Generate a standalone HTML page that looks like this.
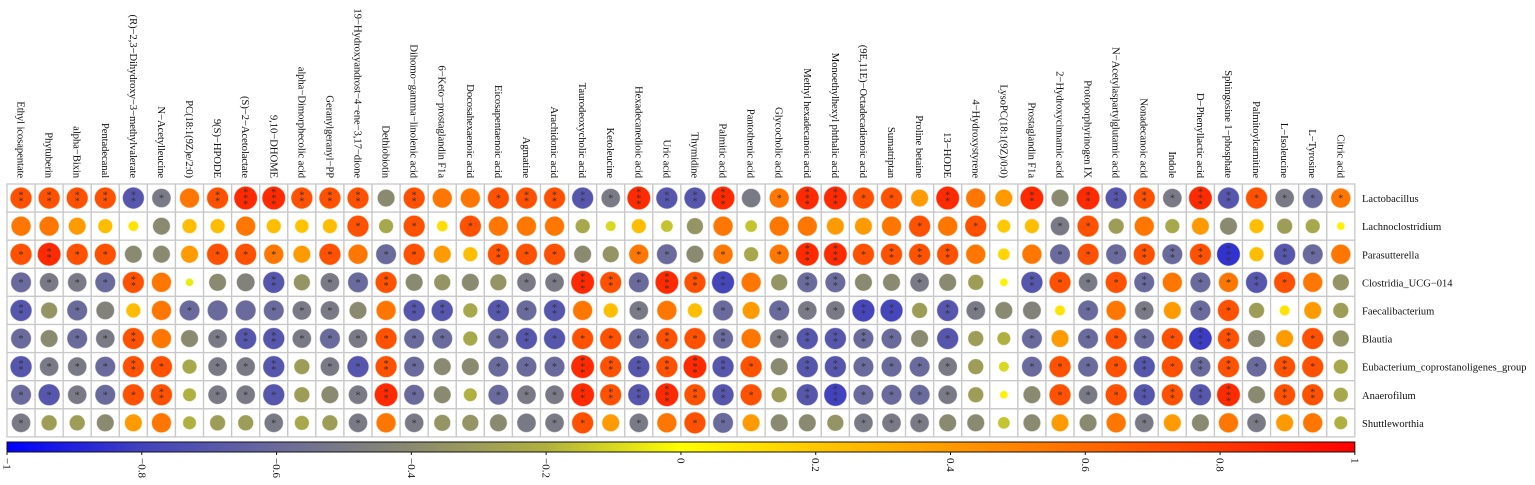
<!DOCTYPE html>
<html><head><meta charset="utf-8">
<style>
html,body{margin:0;padding:0;background:#fff;}
svg{display:block;font-family:"Liberation Serif",serif;}
</style></head>
<body>
<svg id="chart" width="1535" height="485" viewBox="0 0 1535 485" xmlns="http://www.w3.org/2000/svg"></svg>
<script>
const metabolites = ["Ethyl icosapentate","Phytuberin","alpha−Bixin","Pentadecanal","(R)−2,3−Dihydroxy−3−methylvalerate","N−Acetylleucine","PC(18:1(9Z)e/2:0)","9(S)−HPODE","(S)−2−Acetolactate","9,10−DHOME","alpha−Dimorphecolic acid","Geranylgeranyl−PP","19−Hydroxyandrost−4−ene−3,17−dione","Dethiobiotin","Dihomo−gamma−linolenic acid","6−Keto−prostaglandin F1a","Docosahexaenoic acid","Eicosapentaenoic acid","Agmatine","Arachidonic acid","Taurodeoxycholic acid","Ketoleucine","Hexadecanedioic acid","Uric acid","Thymidine","Palmitic acid","Pantothenic acid","Glycocholic acid","Methyl hexadecanoic acid","Monoethylhexyl phthalic acid","(9E,11E)−Octadecadienoic acid","Sumatriptan","Proline betaine","13−HODE","4−Hydroxystyrene","LysoPC(18:1(9Z)/0:0)","Prostaglandin F1a","2−Hydroxycinnamic acid","Protoporphyrinogen IX","N−Acetylaspartylglutamic acid","Nonadecanoic acid","Indole","D−Phenyllactic acid","Sphingosine 1−phosphate","Palmitoylcarnitine","L−Isoleucine","L−Tyrosine","Citric acid"];
const taxa = ["Lactobacillus","Lachnoclostridium","Parasutterella","Clostridia_UCG−014","Faecalibacterium","Blautia","Eubacterium_coprostanoligenes_group","Anaerofilum","Shuttleworthia"];
const rLacto = [.7,.7,.7,.7,-.7,-.5,.55,.7,.85,.85,.7,.7, .7,-.4,.7,.55,.55,.7,.7,.7,-.7,-.5,.85,-.7, -.7,.85,-.5,.55,.85,.85,.7,.7,.4,.85,.55,.4, .85,-.4,.85,-.7,.7,-.5,.85,-.7,.7,-.5,-.6,.55];
const rLachno = [.55,.55,.4,.25,.1,-.4,.25,.25,.55,.25,.22,.25, .7,-.25,.7,.12,.7,.55,.55,.55,-.25,-.1,.25,-.15, -.35,.55,-.15,.55,.55,.4,.4,.55,.7,.55,.7,.2, .25,-.5,.7,-.3,.55,-.25,.4,-.4,.25,-.3,-.25,.05];
const rPara = [.7,.85,.7,.7,-.4,-.4,.4,.7,.7,.55,.4,.7, .55,-.6,.7,.4,.25,.7,.7,.7,-.4,-.35,.55,-.6, -.4,.55,-.25,.55,.85,.85,.7,.7,.7,.7,.55,.15, .55,-.6,.7,-.6,.7,-.6,.7,-.85,.25,-.7,-.6,.55];
const rClost = [-.6,-.5,-.5,-.6,.7,.55,-.05,-.4,-.45,-.7,-.35,-.5, -.6,.7,-.4,-.35,-.4,-.35,-.5,-.5,.85,.7,-.6,.85, .7,-.78,.55,-.35,-.6,-.6,-.4,-.4,-.5,-.4,-.3,.05, -.7,.7,-.5,.7,-.6,.55,-.6,.55,-.7,.7,.55,-.35];
const rFaec = [-.7,-.35,-.6,-.45,.25,.55,-.6,-.6,-.6,-.6,-.5,-.5, -.4,.55,-.7,-.7,-.25,-.7,-.6,-.7,.55,.25,-.5,.55, .25,-.6,.4,-.6,-.5,-.5,-.78,-.78,-.3,-.7,-.5,-.4, -.45,.1,-.6,.55,-.5,.4,-.6,.7,-.3,.1,.4,-.3];
const rBlau = [-.6,-.4,-.6,-.5,.7,.55,-.4,-.5,-.7,-.7,-.5,-.6, -.5,.7,-.6,-.6,-.25,-.6,-.7,-.7,.7,.7,-.6,.7, .7,-.6,.55,-.5,-.7,-.7,-.6,-.6,-.4,-.7,-.3,-.2, -.6,.4,-.6,.7,-.6,.7,-.82,.7,-.4,.4,.7,-.35];
const rEubac = [-.7,-.5,-.5,-.6,.7,.7,-.25,-.5,-.5,-.7,-.3,-.5, -.7,.7,-.6,-.4,-.4,-.6,-.6,-.6,.85,.7,-.7,.7, .85,-.7,.7,-.4,-.7,-.7,-.6,-.6,-.6,-.5,-.3,-.1, -.6,.7,-.6,.7,-.7,.7,-.6,.7,-.6,.7,.7,-.25];
const rAnaero = [-.6,-.7,-.5,-.6,.7,.7,-.2,-.5,-.5,-.7,-.3,-.4, -.5,.85,-.6,-.4,-.2,-.6,-.5,-.5,.85,.7,-.7,.85, .7,-.7,.7,-.3,-.7,-.8,-.6,-.6,-.6,-.5,-.3,.05, -.4,.7,-.5,.7,-.7,.7,-.7,.85,-.4,.7,.7,-.25];
const rShut = [-.5,-.3,-.3,-.4,.4,.55,-.2,-.3,-.3,-.5,-.25,-.3, -.5,.55,-.5,-.35,-.35,-.4,-.5,-.5,.7,.4,-.5,.55, .7,-.6,.4,-.4,-.4,-.35,-.5,-.5,-.5,-.4,-.4,-.15, -.4,.4,-.4,.55,-.5,.4,-.4,.55,-.5,.4,.55,-.2];
const sLacto = [2,2,2,2,2,1,0,2,3,3,2,2, 2,0,2,0,0,1,2,2,2,1,3,2, 2,3,0,1,3,3,1,1,0,2,0,0, 2,0,2,2,2,1,3,2,1,1,1,1];
const sLachno = [0,0,0,0,0,0,0,0,0,0,0,0, 1,0,1,0,1,0,0,0,0,0,0,0, 0,0,0,0,0,0,0,0,1,0,1,0, 0,1,1,0,0,0,0,0,0,0,0,0];
const sPara = [1,2,1,1,0,0,0,1,1,1,0,1, 0,1,1,0,0,2,1,1,0,0,1,1, 0,1,0,1,3,3,1,2,2,2,0,0, 0,1,1,1,2,2,2,3,0,2,1,0];
const sClost = [1,1,1,1,2,0,0,0,0,2,0,1, 1,2,0,0,0,0,1,1,3,2,1,3, 2,2,0,0,2,2,0,0,1,0,0,0, 2,1,1,1,2,0,1,1,2,1,0,0];
const sFaec = [2,0,1,0,0,0,1,0,0,1,1,1, 0,0,2,2,0,2,1,2,0,0,1,0, 0,1,0,1,1,1,2,2,0,2,1,0, 0,0,1,0,1,0,1,1,0,0,0,0];
const sBlau = [1,0,1,1,2,0,0,1,2,2,1,1, 1,1,1,1,0,1,2,1,1,1,1,2, 1,2,0,1,2,2,2,1,0,1,0,0, 1,0,1,1,1,1,3,2,0,0,1,0];
const sEubac = [2,1,1,1,2,1,0,1,1,2,0,1, 1,2,1,0,0,1,1,1,3,2,2,2, 3,2,1,0,2,2,1,1,1,1,0,0, 1,1,1,1,2,1,2,2,1,2,1,0];
const sAnaero = [1,1,1,1,1,2,0,1,1,1,0,0, 1,2,1,0,0,1,1,1,2,2,2,3, 2,2,1,0,2,3,1,1,1,1,0,0, 0,1,1,1,2,2,2,3,0,2,2,0];
const sShut = [1,0,0,0,0,0,0,0,0,1,0,0, 1,0,1,0,0,0,0,1,1,0,1,0, 1,1,0,0,0,0,1,1,1,0,0,0, 0,0,0,0,1,0,0,0,1,0,0,0];
const colorTicks = [-1,-0.8,-0.6,-0.4,-0.2,0,0.2,0.4,0.6,0.8,1];

const values = [rLacto,rLachno,rPara,rClost,rFaec,rBlau,rEubac,rAnaero,rShut];
const sigs = [sLacto,sLachno,sPara,sClost,sFaec,sBlau,sEubac,sAnaero,sShut];

const NS = "http://www.w3.org/2000/svg";
const svg = document.getElementById('chart');
const X0 = 7, Y0 = 184, CW = 28.08, CH = 28.1;
const xPos = i => X0 + CW * i;
const yPos = j => Y0 + CH * j;
const barX = v => X0 + (v + 1) / 2 * (CW * 48);
const stops = [[-1,[0,0,255]],[-0.8,[66,66,190]],[-0.6,[106,106,156]],[-0.4,[138,138,112]],[-0.2,[176,176,64]],[0,[255,255,0]],[0.2,[255,200,0]],[0.4,[255,154,0]],[0.6,[255,106,0]],[0.8,[255,56,0]],[1,[255,0,0]]];
function color(v){
  for(let k=0;k<stops.length-1;k++){
    const a=stops[k],b=stops[k+1];
    if(v<=b[0]){const t=(v-a[0])/(b[0]-a[0]);
      const c=a[1].map((x,i)=>Math.round(x+(b[1][i]-x)*t));
      return `rgb(${c[0]},${c[1]},${c[2]})`;}
  }
  return 'rgb(255,0,0)';
}
function mk(tag, attrs){const e=document.createElementNS(NS,tag);for(const k in attrs)e.setAttribute(k,attrs[k]);return e;}

const grid = mk('g',{});


svg.appendChild(grid);
for(let j=0;j<taxa.length;j++){
  for(let i=0;i<metabolites.length;i++){
    const rect = mk('rect',{x:xPos(i),y:yPos(j),width:CW,height:CH,fill:'#fff',stroke:'#c8c8c8','stroke-width':1.3});
    
    
    grid.appendChild(rect);
  }
}
for(let j=0;j<taxa.length;j++){
  for(let i=0;i<metabolites.length;i++){
    const v = values[j][i];
    const cx = xPos(i)+CW/2, cy = yPos(j)+CH/2;
    const r = Math.min(12.3, 12*Math.pow(Math.abs(v),0.4));
    const c = mk('circle',{cx:cx,cy:cy,r:r,fill:color(v),stroke:color(v),'stroke-opacity':0.5,'stroke-width':1});
    
    
    grid.appendChild(c);
    const n = sigs[j][i];
    for(let k=0;k<n;k++){
      const t = mk('text',{x:cx,y:cy+3.5+(k-(n-1)/2)*6,'text-anchor':'middle','font-size':10,fill:'#333'});
      
      
      t.textContent='*';
      grid.appendChild(t);
    }
  }
}
// column labels
for(let i=0;i<metabolites.length;i++){
  const cx = xPos(i)+CW/2;
  const t = mk('text',{transform:`translate(${cx-3.5},178) rotate(90)`,'text-anchor':'end','font-size':10.8,'letter-spacing':-0.15,fill:'#111'});
  
  
  t.textContent = metabolites[i];
  svg.appendChild(t);
}
// row labels
for(let j=0;j<taxa.length;j++){
  const t = mk('text',{x:1362,y:yPos(j)+CH/2+4,'font-size':10.5,fill:'#111'});
  
  
  t.textContent = taxa[j];
  svg.appendChild(t);
}
// colorbar
const defs = mk('defs',{});
const lg = mk('linearGradient',{id:'cb',x1:'0',x2:'1',y1:'0',y2:'0'});
stops.forEach(s=>{lg.appendChild(mk('stop',{offset:((s[0]+1)/2*100)+'%','stop-color':`rgb(${s[1].join(',')})`}));});
defs.appendChild(lg);svg.appendChild(defs);
const bar = mk('rect',{x:barX(-1),y:442,width:barX(1)-barX(-1),height:10,fill:'url(#cb)',stroke:'#111','stroke-width':1});


svg.appendChild(bar);
colorTicks.forEach(v=>{
  const x = barX(v);
  const tk = mk('line',{x1:x,x2:x,y1:452,y2:455,stroke:'#111','stroke-width':1});
  
  
  svg.appendChild(tk);
  const t = mk('text',{transform:`translate(${x-3.5},458) rotate(90)`,'text-anchor':'start','font-size':11,fill:'#111'});
  
  
  t.textContent = (v<0?'−':'')+String(Math.abs(v));
  svg.appendChild(t);
});
</script>
</body></html>
